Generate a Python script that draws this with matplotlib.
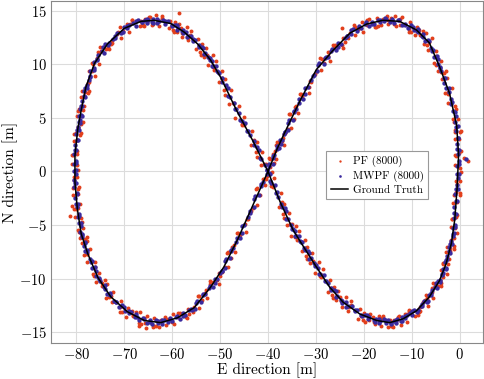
import matplotlib
matplotlib.use("Agg")
import matplotlib.pyplot as plt
import numpy as np

# ground truth waypoints (E, N), in driving order
truth_e = [-40.0, -38.0, -36.1, -33.3, -29.9, -26.4, -22.9, -19.4, -16.0, -12.5,
           -9.0, -6.3, -4.2, -2.1, -0.6, -0.2, -0.5, -1.0, -1.7, -2.8,
           -4.2, -6.3, -9.0, -11.8, -14.6, -17.3, -20.8, -24.3, -27.1, -29.9,
           -32.6, -34.7, -37.4, -40.0, -43.2, -46.5, -49.9, -52.0, -54.7, -57.5,
           -60.3, -63.8, -66.5, -70.0, -73.5, -76.2, -78.0, -79.0, -79.7, -80.3,
           -80.3, -79.8, -79.0, -77.6, -75.5, -72.8, -69.3, -65.8, -62.4, -58.9,
           -55.4, -52.0, -49.2, -46.4, -43.2, -40.0]
truth_n = [0.0, 2.2, 4.0, 6.6, 9.5, 11.3, 12.9, 13.75, 14.1, 14.0,
           13.2, 12.0, 9.8, 7.3, 4.3, 1.5, -1.5, -4.5, -6.7, -8.6,
           -10.2, -11.7, -13.0, -13.75, -14.1, -13.9, -13.3, -12.2, -10.8, -8.9,
           -7.0, -5.5, -2.9, 0.0, 2.9, 5.65, 8.8, 10.4, 11.9, 13.0,
           13.8, 14.1, 14.0, 13.35, 11.9, 10.1, 7.9, 5.7, 4.0, 1.5,
           -1.0, -3.5, -5.8, -7.7, -9.9, -11.7, -13.1, -13.9, -14.1, -13.65,
           -12.7, -10.8, -8.9, -6.4, -3.2, 0.0]

# PF estimates (E, N), right lobe
pf_right = [
    (-39.15, -0.03), (-39.75, 1.23), (-38.45, 1.88), (-38.95, 1.63),
    (-38.16, 2.73), (-36.59, 2.48), (-37.11, 2.83), (-35.84, 3.98),
    (-35.15, 4.03), (-35.55, 5.38), (-34.05, 6.13), (-34.35, 5.98),
    (-33.28, 7.26), (-31.33, 7.29), (-31.48, 7.91), (-29.83, 9.34),
    (-28.86, 9.43), (-29.09, 10.58), (-27.41, 11.13), (-27.54, 10.78),
    (-26.36, 11.8), (-24.39, 11.5), (-24.51, 11.8), (-22.84, 12.9),
    (-21.86, 12.71), (-22.09, 13.62), (-20.41, 13.93), (-20.54, 13.34),
    (-19.38, 14.09), (-17.43, 13.48), (-17.58, 13.47), (-15.93, 14.26),
    (-14.96, 13.79), (-15.19, 14.46), (-13.51, 14.54), (-13.64, 13.71),
    (-12.46, 14.2), (-10.49, 13.3), (-10.61, 13.0), (-8.94, 13.5),
    (-8.06, 12.75), (-8.49, 13.15), (-7.01, 12.95), (-7.34, 11.85),
    (-6.44, 12.03), (-4.81, 10.78), (-5.29, 10.13), (-3.96, 10.28),
    (-3.34, 9.19), (-3.91, 9.26), (-2.59, 8.74), (-3.06, 7.31),
    (-2.31, 7.23), (-0.84, 5.78), (-1.46, 4.93), (-0.29, 4.88),
    (0.05, 3.65), (-0.95, 3.65), (-0.05, 3.05), (-0.95, 1.55),
    (-0.64, 1.43), (0.39, -0.02), (-0.69, -0.88), (0.04, -0.93),
    (0.04, -2.18), (-1.19, -2.23), (-0.51, -2.88), (-1.64, -4.43),
    (-1.49, -4.48), (-0.56, -5.73), (-1.74, -6.38), (-1.11, -6.23),
    (-1.24, -7.24), (-2.61, -7.01), (-2.09, -7.39), (-3.36, -8.66),
    (-3.38, -8.5), (-2.63, -9.6), (-3.98, -10.1), (-3.53, -9.8),
    (-3.86, -10.69), (-5.49, -10.36), (-5.21, -10.64), (-6.74, -11.81),
    (-7.04, -11.56), (-6.61, -12.59), (-8.29, -13.01), (-8.16, -12.64),
    (-8.75, -13.39), (-10.55, -12.88), (-10.45, -12.97), (-12.15, -13.96),
    (-12.55, -13.49), (-12.15, -14.28), (-13.85, -14.47), (-13.75, -13.86),
    (-14.34, -14.38), (-16.11, -13.63), (-15.99, -13.48), (-17.66, -14.23),
    (-18.14, -13.53), (-17.91, -14.08), (-19.79, -14.03), (-19.86, -13.18),
    (-20.64, -13.46), (-22.61, -12.49), (-22.69, -12.11), (-24.56, -12.64),
    (-25.05, -11.73), (-24.65, -12.08), (-26.35, -11.83), (-26.25, -10.78),
    (-26.85, -10.86), (-28.65, -9.69), (-28.55, -9.11), (-30.25, -9.44),
    (-30.64, -8.36), (-30.21, -8.59), (-31.89, -8.21), (-31.76, -7.04),
    (-32.26, -7.11), (-33.89, -6.04), (-33.61, -5.56), (-35.14, -5.99),
    (-35.44, -4.88), (-35.01, -4.93), (-36.69, -4.38), (-36.56, -3.03),
    (-37.13, -2.84), (-38.88, -1.41), (-38.73, -0.59), (-40.38, -0.66),
    (1.0, 1.3), (1.8, 1.0), (-24.5, 13.4),
]
pf_right_b = [
    (-40.3, -0.45), (-38.7, 0.75), (-39.6, 1.2), (-38.3, 1.15),
    (-37.5, 2.65), (-38.23, 2.5), (-36.65, 3.45), (-36.78, 3.15),
    (-36.4, 3.55), (-34.6, 4.85), (-35.3, 5.4), (-33.8, 5.45),
    (-32.8, 7.05), (-33.15, 7.18), (-31.2, 8.4), (-30.95, 8.38),
    (-30.2, 9.05), (-28.23, 10.15), (-28.75, 10.5), (-27.08, 10.35),
    (-25.9, 11.75), (-26.23, 11.55), (-24.25, 12.45), (-23.98, 12.1),
    (-23.2, 12.45), (-21.23, 13.31), (-21.75, 13.43), (-20.08, 13.04),
    (-18.9, 14.2), (-19.25, 13.69), (-17.3, 14.28), (-17.05, 13.61),
    (-16.3, 13.65), (-14.33, 14.28), (-14.85, 14.15), (-13.18, 13.53),
    (-12.0, 14.45), (-12.33, 13.65), (-10.35, 13.95), (-10.08, 13.0),
    (-9.3, 12.75), (-7.53, 13.1), (-8.25, 12.7), (-6.78, 11.8),
    (-5.8, 12.45), (-6.48, 11.3), (-4.85, 11.25), (-4.93, 9.95),
    (-4.5, 9.35), (-2.88, 9.38), (-3.75, 8.65), (-2.43, 7.43),
    (-1.6, 7.75), (-2.43, 6.4), (-0.95, 6.15), (-1.18, 4.65),
    (-0.9, 3.85), (0.3, 3.8), (-1.0, 3.0), (-0.1, 1.7),
    (0.3, 1.95), (-0.98, 0.6), (0.05, 0.35), (-0.63, -1.15),
    (-0.8, -1.95), (0.17, -2.05), (-1.35, -2.9), (-0.68, -4.25),
    (-0.5, -4.05), (-1.88, -5.2), (-0.95, -5.25), (-1.73, -6.55),
    (-2.0, -7.15), (-1.18, -6.98), (-2.85, -7.55), (-2.33, -8.63),
    (-2.3, -8.15), (-3.85, -9.15), (-3.1, -9.05), (-4.05, -10.2),
    (-4.5, -10.65), (-3.93, -10.38), (-5.85, -10.85), (-5.58, -11.83),
    (-5.8, -11.25), (-7.68, -12.18), (-7.25, -12.0), (-8.53, -13.08),
    (-9.3, -13.45), (-8.9, -12.99), (-11.0, -13.28), (-10.9, -14.06),
    (-11.3, -13.3), (-13.2, -13.99), (-12.8, -13.58), (-14.1, -14.41),
    (-14.9, -14.55), (-14.48, -13.85), (-16.55, -13.9), (-16.43, -14.45),
    (-16.8, -13.45), (-18.88, -13.9), (-18.65, -13.25), (-20.13, -13.85),
    (-21.1, -13.75), (-20.88, -12.83), (-23.15, -12.65), (-23.23, -12.98),
    (-23.8, -11.75), (-25.7, -12.0), (-25.3, -11.15), (-26.6, -11.55),
    (-27.4, -11.25), (-27.0, -10.13), (-29.1, -9.75), (-29.0, -9.88),
    (-29.4, -8.45), (-31.28, -8.58), (-30.85, -7.6), (-32.13, -7.88),
    (-32.9, -7.45), (-32.33, -6.43), (-34.25, -6.15), (-33.98, -6.38),
    (-34.2, -5.05), (-36.08, -5.0), (-35.65, -3.85), (-36.93, -3.95),
    (-37.7, -3.35), (-37.25, -1.98), (-39.3, -1.35), (-39.15, -1.23),
]

# PF estimates (E, N), left lobe
pf_left = [
    (-40.8, 0.66), (-40.5, 0.69), (-42.3, 1.31), (-42.3, 2.74),
    (-43.01, 2.94), (-44.94, 4.33), (-44.96, 5.12), (-46.79, 5.01),
    (-47.33, 6.34), (-47.08, 6.43), (-48.93, 7.12), (-48.98, 8.61),
    (-49.56, 8.7), (-51.19, 9.8), (-50.91, 10.3), (-52.44, 9.9),
    (-52.74, 10.89), (-52.31, 10.56), (-53.99, 10.84), (-53.86, 11.91),
    (-54.45, 11.74), (-56.25, 12.71), (-56.15, 13.09), (-57.85, 12.56),
    (-58.25, 13.4), (-57.85, 12.9), (-59.55, 13.0), (-59.45, 13.9),
    (-60.14, 13.54), (-62.11, 14.31), (-62.19, 14.49), (-64.06, 13.76),
    (-64.54, 14.39), (-64.11, 13.66), (-65.79, 13.54), (-65.66, 14.21),
    (-66.34, 13.62), (-68.31, 14.16), (-68.39, 14.09), (-70.26, 13.13),
    (-70.84, 13.47), (-70.61, 12.41), (-72.49, 11.94), (-72.56, 12.28),
    (-73.24, 11.38), (-75.01, 11.63), (-74.89, 11.28), (-76.56, 10.03),
    (-76.83, 10.13), (-76.18, 8.88), (-77.63, 8.23), (-77.28, 8.38),
    (-77.53, 7.33), (-78.88, 7.48), (-78.33, 7.03), (-79.58, 5.68),
    (-79.49, 5.79), (-78.56, 4.66), (-79.74, 4.14), (-79.11, 4.41),
    (-79.18, 3.39), (-80.43, 3.46), (-79.78, 2.94), (-80.93, 1.51),
    (-80.7, 1.49), (-79.6, 0.16), (-80.6, -0.56), (-79.8, -0.49),
    (-79.64, -1.61), (-80.61, -1.54), (-79.69, -2.06), (-80.56, -3.49),
    (-80.1, -3.49), (-78.8, -4.76), (-79.6, -5.44), (-78.6, -5.31),
    (-78.23, -6.34), (-78.98, -6.11), (-77.83, -6.49), (-78.48, -7.76),
    (-77.74, -7.68), (-76.11, -8.93), (-76.59, -9.58), (-75.26, -9.43),
    (-74.56, -10.43), (-74.99, -10.18), (-73.51, -10.53), (-73.84, -11.78),
    (-72.76, -11.58), (-70.79, -12.63), (-70.91, -13.08), (-69.24, -12.73),
    (-68.26, -13.5), (-68.49, -13.0), (-66.81, -13.1), (-66.94, -14.1),
    (-65.78, -13.63), (-63.83, -14.38), (-63.98, -14.53), (-62.33, -13.88),
    (-61.36, -14.34), (-61.59, -13.53), (-59.91, -13.32), (-60.04, -14.01),
    (-58.86, -13.23), (-56.89, -13.69), (-57.01, -13.56), (-55.34, -12.62),
    (-54.38, -12.76), (-54.63, -11.59), (-52.98, -11.01), (-53.13, -11.34),
    (-52.05, -10.26), (-50.25, -10.49), (-50.55, -10.11), (-49.05, -8.94),
    (-48.25, -8.89), (-48.65, -7.56), (-47.15, -6.84), (-47.45, -7.01),
    (-46.4, -5.7), (-44.5, -5.6), (-44.7, -4.9), (-43.1, -3.4),
    (-42.2, -3.1), (-42.5, -1.6), (-40.9, -0.7), (-41.1, -0.7),
    (-81.0, -3.2), (-81.3, -4.2), (-65.5, -14.6), (-67.0, -14.4), (-58.5, 14.8),
]
pf_left_b = [
    (-39.5, 0.45), (-41.5, 0.58), (-41.2, 1.8), (-42.6, 1.78),
    (-43.5, 2.45), (-43.23, 3.79), (-45.45, 4.38), (-45.48, 4.46),
    (-46.0, 6.1), (-48.05, 6.29), (-47.8, 7.58), (-49.25, 7.61),
    (-50.2, 8.35), (-49.63, 9.4), (-51.55, 9.7), (-51.28, 9.5),
    (-51.5, 10.85), (-53.38, 10.63), (-52.95, 11.5), (-54.23, 11.13),
    (-55.0, 11.45), (-54.6, 12.38), (-56.7, 12.55), (-56.6, 12.23),
    (-57.0, 13.45), (-58.9, 13.05), (-58.5, 13.75), (-59.8, 13.2),
    (-60.6, 13.35), (-60.38, 14.08), (-62.65, 14.05), (-62.73, 13.53),
    (-63.3, 14.55), (-65.18, 13.93), (-64.75, 14.4), (-66.03, 13.63),
    (-66.8, 13.55), (-66.58, 14.04), (-68.85, 13.78), (-68.93, 13.01),
    (-69.5, 13.8), (-71.58, 12.84), (-71.35, 12.98), (-72.83, 11.86),
    (-73.8, 11.45), (-73.38, 11.65), (-75.45, 11.1), (-75.33, 10.05),
    (-75.7, 10.55), (-77.35, 9.4), (-76.7, 9.35), (-77.75, 8.05),
    (-78.3, 7.45), (-77.45, 7.55), (-79.1, 6.9), (-78.55, 5.75),
    (-78.5, 6.15), (-79.88, 5.13), (-78.95, 5.2), (-79.73, 4.03),
    (-80.0, 3.55), (-79.05, 3.58), (-80.6, 2.85), (-79.95, 1.63),
    (-79.8, 1.95), (-81.0, 0.73), (-79.9, 0.6), (-80.5, -0.78),
    (-80.6, -1.45), (-79.38, -1.43), (-80.65, -2.15), (-79.73, -3.38),
    (-79.3, -3.05), (-80.3, -4.23), (-79.0, -4.3), (-79.4, -5.63),
    (-79.3, -6.25), (-77.85, -6.08), (-78.9, -6.65), (-77.75, -7.73),
    (-77.1, -7.25), (-77.78, -8.4), (-76.15, -8.45), (-76.23, -9.75),
    (-75.8, -10.35), (-74.03, -10.15), (-74.75, -10.7), (-73.28, -11.75),
    (-72.3, -11.25), (-72.63, -12.2), (-70.65, -12.05), (-70.38, -13.15),
    (-69.6, -13.55), (-67.63, -13.1), (-68.15, -13.4), (-66.48, -14.2),
    (-65.3, -13.45), (-65.65, -14.1), (-63.7, -13.65), (-63.45, -14.45),
    (-62.7, -14.55), (-60.73, -13.79), (-61.25, -13.78), (-59.58, -14.26),
    (-58.4, -13.2), (-58.73, -13.56), (-56.75, -12.83), (-56.48, -13.34),
    (-55.7, -13.15), (-53.75, -12.03), (-54.3, -11.65), (-52.65, -11.78),
    (-51.5, -10.35), (-52.0, -10.48), (-50.2, -9.5), (-50.1, -9.78),
    (-49.5, -9.35), (-47.7, -8.08), (-48.4, -7.55), (-46.9, -7.53),
    (-45.9, -5.95), (-46.3, -5.75), (-44.4, -4.45), (-44.2, -4.4),
    (-43.5, -3.65), (-41.6, -2.2), (-42.2, -1.5), (-40.6, -1.3),
]

# MWPF estimates (E, N), right lobe
mwpf_right = [
    (-39.8, -0.1), (-39.75, 0.7), (-38.9, 1.3), (-38.7, 1.5),
    (-38.15, 2.35), (-37.28, 2.55), (-37.15, 2.9), (-36.38, 3.65),
    (-35.9, 3.9), (-35.65, 4.8), (-34.6, 5.5), (-34.2, 5.8),
    (-33.45, 6.75), (-32.2, 7.23), (-31.7, 7.85), (-30.55, 8.88),
    (-29.7, 9.4), (-29.28, 10.1), (-28.05, 10.6), (-27.48, 10.7),
    (-26.55, 11.45), (-25.28, 11.6), (-24.75, 11.9), (-23.58, 12.6),
    (-22.7, 12.8), (-22.28, 13.26), (-21.05, 13.53), (-20.48, 13.39),
    (-19.55, 13.9), (-18.3, 13.74), (-17.8, 13.73), (-16.65, 14.11),
    (-15.8, 14.0), (-15.38, 14.23), (-14.15, 14.25), (-13.58, 13.88),
    (-12.65, 14.15), (-11.38, 13.7), (-10.85, 13.4), (-9.68, 13.5),
    (-8.8, 13.1), (-8.58, 13.05), (-7.55, 12.8), (-7.18, 12.15),
    (-6.45, 12.15), (-5.53, 11.35), (-5.35, 10.7), (-4.53, 10.45),
    (-4.0, 9.7), (-3.93, 9.33), (-3.05, 8.75), (-2.83, 7.78),
    (-2.25, 7.45), (-1.48, 6.45), (-1.45, 5.6), (-0.78, 5.15),
    (-0.4, 4.2), (-0.75, 3.75), (-0.3, 3.1), (-0.5, 2.05),
    (-0.35, 1.65), (-0.03, 0.65), (-0.45, -0.2), (-0.23, -0.65),
    (-0.3, -1.6), (-0.88, -2.1), (-0.65, -2.8), (-1.08, -3.9),
    (-1.15, -4.35), (-0.93, -5.15), (-1.45, -5.8), (-1.33, -6.05),
    (-1.5, -6.8), (-2.23, -7.03), (-2.15, -7.45), (-2.73, -8.28),
    (-2.95, -8.45), (-2.9, -9.1), (-3.6, -9.6), (-3.65, -9.7),
    (-4.0, -10.3), (-4.98, -10.43), (-5.15, -10.75), (-5.98, -11.48),
    (-6.45, -11.55), (-6.73, -12.13), (-7.75, -12.55), (-8.13, -12.58),
    (-8.8, -13.1), (-9.95, -13.04), (-10.3, -13.18), (-11.3, -13.71),
    (-11.95, -13.6), (-12.25, -13.94), (-13.3, -14.13), (-13.7, -13.91),
    (-14.4, -14.2), (-15.53, -13.9), (-15.85, -13.8), (-16.83, -14.1),
    (-17.45, -13.75), (-17.93, -13.85), (-19.15, -13.8), (-19.73, -13.35),
    (-20.6, -13.4), (-21.93, -12.88), (-22.45, -12.55), (-23.63, -12.63),
    (-24.45, -12.05), (-24.75, -11.95), (-25.8, -11.7), (-26.2, -11.05),
    (-26.9, -10.9), (-28.05, -10.18), (-28.4, -9.65), (-29.4, -9.53),
    (-30.05, -8.75), (-30.33, -8.53), (-31.35, -8.15), (-31.73, -7.38),
    (-32.4, -7.1), (-33.38, -6.48), (-33.55, -6.05), (-34.38, -6.03),
    (-34.85, -5.35), (-35.13, -4.95), (-36.15, -4.4), (-36.53, -3.45),
    (-37.2, -3.0), (-38.3, -2.03), (-38.6, -1.25), (-39.55, -0.88),
    (1.3, 1.2),
]
mwpf_right_b = [
    (-39.85, 0.48), (-39.05, 0.68), (-39.0, 1.43), (-38.15, 2.08),
    (-37.61, 2.23), (-37.49, 2.98), (-36.61, 3.48), (-36.44, 3.68),
    (-35.85, 4.53), (-34.85, 4.83), (-34.6, 5.68), (-33.55, 6.43),
    (-32.73, 6.76), (-32.23, 7.79), (-30.98, 8.56), (-30.43, 9.04),
    (-29.56, 9.93), (-28.39, 10.03), (-27.96, 10.68), (-26.74, 11.23),
    (-25.81, 11.3), (-25.29, 12.0), (-24.01, 12.45), (-23.44, 12.6),
    (-22.56, 13.21), (-21.39, 13.07), (-20.96, 13.48), (-19.74, 13.79),
    (-18.83, 13.59), (-18.33, 13.98), (-17.08, 14.12), (-16.53, 13.96),
    (-15.66, 14.29), (-14.49, 13.91), (-14.06, 14.09), (-12.84, 14.16),
    (-11.91, 13.7), (-11.39, 13.8), (-10.11, 13.65), (-9.54, 13.2),
    (-8.76, 13.25), (-7.79, 12.6), (-7.56, 12.5), (-6.54, 12.3),
    (-5.89, 11.53), (-5.71, 11.28), (-4.79, 10.78), (-4.56, 9.98),
    (-4.04, 9.69), (-3.21, 8.71), (-3.14, 8.29), (-2.26, 7.76),
    (-1.76, 6.73), (-1.74, 6.28), (-0.96, 5.58), (-0.89, 4.58),
    (-0.65, 4.15), (-0.25, 3.1), (-0.6, 2.6), (-0.15, 2.0),
    (-0.09, 0.93), (-0.51, 0.48), (-0.19, -0.23), (-0.56, -1.23),
    (-0.66, -1.68), (-0.49, -2.78), (-1.06, -3.33), (-0.84, -3.98),
    (-0.94, -4.98), (-1.46, -5.23), (-1.24, -5.73), (-1.71, -6.53),
    (-1.94, -6.74), (-1.91, -7.56), (-2.64, -7.84), (-2.56, -8.21),
    (-2.83, -9.0), (-3.53, -9.1), (-3.48, -9.45), (-4.13, -10.1),
    (-4.56, -10.19), (-4.79, -10.91), (-5.76, -11.09), (-5.94, -11.36),
    (-6.49, -12.06), (-7.51, -12.09), (-7.79, -12.36), (-8.76, -12.94),
    (-9.45, -12.89), (-9.85, -13.43), (-11.0, -13.42), (-11.35, -13.51),
    (-12.0, -13.99), (-13.05, -13.78), (-13.35, -13.82), (-14.35, -14.16),
    (-15.04, -13.88), (-15.41, -14.18), (-16.54, -13.93), (-16.86, -13.78),
    (-17.59, -14.03), (-18.81, -13.58), (-19.29, -13.38), (-20.46, -13.48),
    (-21.34, -12.96), (-21.91, -13.04), (-23.24, -12.56), (-23.76, -12.19),
    (-24.5, -12.23), (-25.55, -11.58), (-25.85, -11.18), (-26.85, -11.08),
    (-27.55, -10.36), (-27.95, -10.24), (-29.1, -9.56), (-29.45, -8.99),
    (-30.09, -8.86), (-31.11, -8.09), (-31.39, -7.56), (-32.36, -7.34),
    (-32.96, -6.61), (-33.19, -6.59), (-34.16, -6.01), (-34.34, -5.54),
    (-34.89, -5.38), (-35.91, -4.43), (-36.19, -3.73), (-37.16, -3.33),
    (-37.83, -2.34), (-38.18, -1.96), (-39.28, -1.04), (-39.58, -0.21),
]

# MWPF estimates (E, N), left lobe
mwpf_left = [
    (-40.15, 0.15), (-40.55, 0.63), (-41.7, 1.25), (-42.2, 2.28),
    (-43.0, 2.8), (-44.28, 3.74), (-44.75, 4.48), (-45.88, 4.81),
    (-46.65, 5.8), (-47.1, 6.34), (-48.3, 7.03), (-48.85, 8.11),
    (-49.7, 8.7), (-50.68, 9.35), (-50.85, 9.8), (-51.68, 9.85),
    (-52.15, 10.55), (-52.43, 10.68), (-53.45, 10.95), (-53.83, 11.63),
    (-54.5, 11.8), (-55.65, 12.33), (-56.0, 12.65), (-57.0, 12.58),
    (-57.65, 13.15), (-57.95, 13.1), (-59.0, 13.2), (-59.4, 13.7),
    (-60.1, 13.7), (-61.43, 14.03), (-61.95, 14.15), (-63.13, 13.88),
    (-63.95, 14.25), (-64.23, 13.98), (-65.25, 13.85), (-65.63, 14.13),
    (-66.3, 13.9), (-67.63, 13.99), (-68.15, 13.88), (-69.33, 13.36),
    (-70.15, 13.5), (-70.63, 12.89), (-71.85, 12.43), (-72.43, 12.36),
    (-73.3, 11.8), (-74.43, 11.6), (-74.75, 11.2), (-75.73, 10.4),
    (-76.35, 10.25), (-76.4, 9.45), (-77.2, 8.8), (-77.35, 8.55),
    (-77.8, 7.8), (-78.5, 7.5), (-78.4, 7.0), (-78.95, 6.1),
    (-79.15, 5.85), (-78.93, 5.18), (-79.45, 4.65), (-79.33, 4.53),
    (-79.5, 3.9), (-80.1, 3.53), (-79.9, 2.95), (-80.35, 1.98),
    (-80.45, 1.65), (-80.05, 0.78), (-80.4, 0.05), (-80.1, -0.28),
    (-80.1, -1.1), (-80.43, -1.48), (-79.95, -2.05), (-80.13, -3.03),
    (-79.95, -3.35), (-79.35, -4.18), (-79.5, -4.85), (-79.0, -5.13),
    (-78.8, -5.9), (-78.9, -6.13), (-78.2, -6.55), (-78.15, -7.38),
    (-77.75, -7.55), (-76.83, -8.35), (-76.65, -9.0), (-75.83, -9.25),
    (-75.3, -10.0), (-75.08, -10.2), (-74.05, -10.6), (-73.68, -11.4),
    (-72.95, -11.55), (-71.68, -12.15), (-71.15, -12.6), (-69.98, -12.65),
    (-69.1, -13.2), (-68.68, -13.15), (-67.45, -13.3), (-66.88, -13.85),
    (-65.95, -13.75), (-64.7, -14.05), (-64.2, -14.2), (-63.05, -13.95),
    (-62.2, -14.2), (-61.78, -13.84), (-60.55, -13.68), (-59.98, -13.91),
    (-59.05, -13.5), (-57.78, -13.51), (-57.25, -13.38), (-56.08, -12.84),
    (-55.2, -12.8), (-54.8, -12.08), (-53.6, -11.55), (-53.05, -11.43),
    (-52.15, -10.65), (-51.05, -10.43), (-50.7, -10.05), (-49.7, -9.28),
    (-49.0, -9.0), (-48.75, -8.13), (-47.7, -7.45), (-47.3, -7.18),
    (-46.55, -6.25), (-45.35, -5.7), (-44.9, -5.0), (-43.8, -3.9),
    (-43.0, -3.3), (-42.65, -2.25), (-41.5, -1.4), (-41.0, -0.95),
]
mwpf_left_b = [
    (-40.25, 0.16), (-41.4, 1.19), (-41.8, 1.96), (-42.9, 2.44),
    (-43.71, 3.44), (-44.24, 3.78), (-45.51, 4.67), (-45.99, 5.46),
    (-46.78, 5.84), (-47.98, 6.93), (-48.43, 7.77), (-49.58, 8.31),
    (-50.26, 9.2), (-50.49, 9.25), (-51.46, 9.85), (-51.64, 10.35),
    (-52.19, 10.39), (-53.21, 11.06), (-53.49, 11.49), (-54.46, 11.61),
    (-55.15, 12.24), (-55.55, 12.16), (-56.7, 12.64), (-57.05, 13.01),
    (-57.7, 12.9), (-58.75, 13.4), (-59.05, 13.65), (-60.05, 13.6),
    (-60.84, 14.04), (-61.41, 13.76), (-62.74, 14.04), (-63.26, 14.21),
    (-63.99, 13.89), (-65.01, 14.16), (-65.29, 14.19), (-66.26, 13.91),
    (-67.04, 14.12), (-67.61, 13.61), (-68.94, 13.64), (-69.46, 13.58),
    (-70.29, 12.97), (-71.51, 12.91), (-71.99, 12.59), (-73.16, 11.98),
    (-73.94, 11.88), (-74.31, 11.08), (-75.44, 10.83), (-75.76, 10.48),
    (-76.28, 9.63), (-77.08, 9.38), (-77.13, 8.88), (-77.88, 8.08),
    (-78.23, 7.83), (-78.18, 6.93), (-78.88, 6.58), (-78.78, 6.13),
    (-78.94, 5.29), (-79.46, 5.16), (-79.24, 4.79), (-79.71, 4.11),
    (-79.88, 3.89), (-79.73, 2.91), (-80.33, 2.49), (-80.13, 1.96),
    (-80.15, 0.99), (-80.5, 0.66), (-80.1, 0.09), (-80.4, -0.79),
    (-80.34, -1.11), (-79.91, -2.09), (-80.24, -2.51), (-79.76, -3.04),
    (-79.55, -3.99), (-79.7, -4.26), (-79.1, -4.79), (-79.2, -5.61),
    (-78.93, -5.84), (-78.28, -6.66), (-78.38, -6.94), (-77.68, -7.31),
    (-77.19, -8.18), (-77.01, -8.43), (-76.09, -8.93), (-75.86, -9.73),
    (-75.26, -9.93), (-74.29, -10.73), (-74.06, -10.98), (-73.04, -11.33),
    (-72.21, -12.08), (-71.69, -12.13), (-70.41, -12.43), (-69.84, -13.03),
    (-68.96, -13.0), (-67.79, -13.55), (-67.36, -13.55), (-66.14, -13.65),
    (-65.23, -14.13), (-64.73, -13.88), (-63.48, -13.88), (-62.93, -14.18),
    (-62.06, -13.84), (-60.89, -14.08), (-60.46, -13.77), (-59.24, -13.56),
    (-58.31, -13.73), (-57.79, -13.19), (-56.51, -12.91), (-55.94, -12.92),
    (-55.08, -12.26), (-53.93, -12.14), (-53.53, -11.46), (-52.33, -10.89),
    (-51.5, -10.76), (-51.15, -9.99), (-50.05, -9.46), (-49.65, -9.24),
    (-48.95, -8.39), (-47.95, -8.11), (-47.7, -7.29), (-46.65, -6.56),
    (-45.85, -6.2), (-45.4, -5.1), (-44.2, -4.25), (-43.7, -3.7),
    (-42.9, -2.6), (-41.8, -2.15), (-41.45, -1.15), (-40.3, -0.25),
]

x_ticks = [-80, -70, -60, -50, -40, -30, -20, -10, 0]
y_ticks = [-15, -10, -5, 0, 5, 10, 15]

plt.rcParams["font.family"] = "serif"
plt.rcParams["font.serif"] = ["cmr10"]
plt.rcParams["mathtext.fontset"] = "cm"
plt.rcParams["axes.formatter.use_mathtext"] = True
plt.rcParams["axes.unicode_minus"] = True

pf = np.array(pf_right + pf_right_b + pf_left + pf_left_b)
mwpf = np.array(mwpf_right + mwpf_right_b + mwpf_left + mwpf_left_b)

fig = plt.figure(figsize=(4.84, 3.79), dpi=100)
ax = fig.add_axes([51 / 484, 1 - 343 / 379, 432 / 484, 342 / 379])

ax.scatter(pf[:, 0], pf[:, 1], s=8, color="#e2401c", linewidths=0,
           label="PF (8000)", zorder=2)
ax.scatter(mwpf[:, 0], mwpf[:, 1], s=10, color="#3a2a9e", linewidths=0,
           label="MWPF (8000)", zorder=3)
ax.plot(truth_e, truth_n, color="black", lw=1.1, label="Ground Truth", zorder=4)

ax.set_xlim(-85.3, 4.9)
ax.set_ylim(-16.0, 15.9)
ax.set_xticks(x_ticks)
ax.set_yticks(y_ticks)
ax.grid(True, color="#dcdcdc", lw=0.8)
ax.set_axisbelow(True)
for sp in ax.spines.values():
    sp.set_color("#888888")
ax.tick_params(colors="#888888", labelcolor="black", labelsize=10.5,
               length=0, pad=3)

ax.set_xlabel("E direction [m]", fontsize=11, labelpad=0)
ax.set_ylabel("N direction [m]", fontsize=11, labelpad=1)

leg = ax.legend(loc="upper left", bbox_to_anchor=(0.637, 0.56), borderaxespad=0,
                fontsize=8, fancybox=False, edgecolor="#999999", framealpha=1,
                handlelength=1.6, handletextpad=0.4, markerscale=0.6,
                borderpad=0.4, labelspacing=0.3)
leg.get_frame().set_linewidth(0.8)

fig.savefig("out.png", dpi=100)
